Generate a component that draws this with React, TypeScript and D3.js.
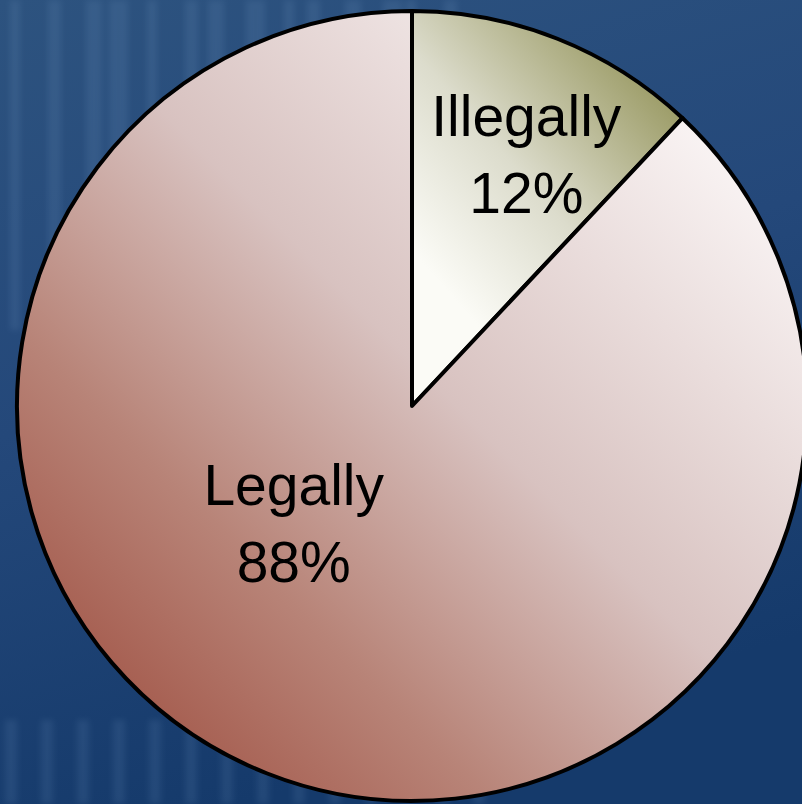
import React from "react";
import * as d3 from "d3";

const categories = ["Illegally", "Legally"];
const values = [12, 88];
const labels = ["12%", "88%"];

const W = 802;
const H = 804;

export default function App() {
  const cx = 412;
  const cy = 406;
  const r = 395;

  const pie = d3
    .pie<number>()
    .sort(null)
    .value((d) => d);
  const arcs = pie(values);
  const arc = d3.arc<d3.PieArcDatum<number>>().innerRadius(0).outerRadius(r);

  const fills = ["url(#gIll)", "url(#gLeg)"];
  // label placement (layout): radius & angle offsets relative to slice mid-angle
  const labelPos = (i: number, a: d3.PieArcDatum<number>) => {
    const mid = (a.startAngle + a.endAngle) / 2;
    const spec = i === 0 ? { rr: 276, da: 0.05, sy: -10 } : { rr: 176, da: 0.36, sy: -22 };
    const ang = mid + spec.da;
    return [Math.sin(ang) * spec.rr, -Math.cos(ang) * spec.rr + spec.sy];
  };

  const stripes = d3.range(0, 14);

  return (
    <svg
      width={W}
      height={H}
      style={{ position: "absolute", left: 0, top: 0, display: "block" }}
    >
      <defs>
        <linearGradient id="bg" x1="0" y1="0" x2="0.3" y2="1">
          <stop offset="0" stopColor="#2d537f" />
          <stop offset="0.5" stopColor="#24487a" />
          <stop offset="1" stopColor="#153a6b" />
        </linearGradient>
        <filter id="blur" x="-20%" y="-20%" width="140%" height="140%">
          <feGaussianBlur stdDeviation="3" />
        </filter>
        <linearGradient
          id="gLeg"
          gradientUnits="userSpaceOnUse"
          x1={cx - 300}
          y1={cy + 320}
          x2={cx + 300}
          y2={cy - 280}
        >
          <stop offset="0" stopColor="#a3584a" />
          <stop offset="0.25" stopColor="#b88478" />
          <stop offset="0.55" stopColor="#d8c2c0" />
          <stop offset="1" stopColor="#faf5f5" />
        </linearGradient>
        <linearGradient
          id="gIll"
          gradientUnits="userSpaceOnUse"
          x1={cx + 20}
          y1={cy - 70}
          x2={cx + 270}
          y2={cy - 290}
        >
          <stop offset="0" stopColor="#fbfbf6" />
          <stop offset="0.4" stopColor="#dcdccc" />
          <stop offset="1" stopColor="#8c8c4e" />
        </linearGradient>
      </defs>
      <rect x={0} y={0} width={W} height={H} fill="url(#bg)" />
      <g opacity={0.1} filter="url(#blur)">
        {stripes.map((i) => (
          <rect
            key={i}
            x={10 + i * 33 + (i % 3) * 5}
            y={0}
            width={10 + (i % 4) * 3}
            height={330 + (i % 5) * 20}
            fill="#9cc0e6"
          />
        ))}
        {stripes.map((i) => (
          <rect
            key={"b" + i}
            x={5 + i * 36}
            y={720}
            width={12}
            height={84}
            fill="#9cc0e6"
          />
        ))}
      </g>
      <g transform={`translate(${cx},${cy})`}>
        {arcs.map((a, i) => (
          <path
            key={categories[i]}
            d={arc(a) || ""}
            fill={fills[i]}
            stroke="#000"
            strokeWidth={4}
            strokeLinejoin="round"
          />
        ))}
        {arcs.map((a, i) => {
          const [x, y] = labelPos(i, a);
          return (
            <text
              key={"t" + i}
              x={x}
              y={y}
              textAnchor="middle"
              fontFamily="'Liberation Sans', Arial, sans-serif"
              fontSize={57}
              fill="#000"
            >
              <tspan x={x} dy={-9}>
                {categories[i]}
              </tspan>
              <tspan x={x} dy={77}>
                {labels[i]}
              </tspan>
            </text>
          );
        })}
      </g>
    </svg>
  );
}
